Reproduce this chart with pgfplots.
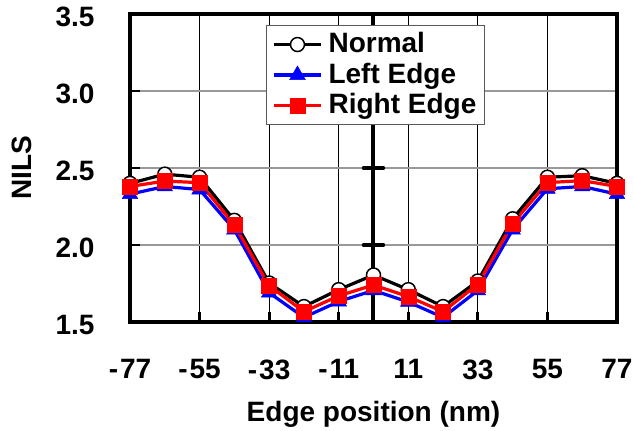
\documentclass[border=0pt]{standalone}
\usepackage{pgfplots}
\pgfplotsset{compat=1.18}
\usepackage{fontspec}
\setmainfont{Liberation Sans}
\newcommand{\lf}{\fontsize{28}{32}\selectfont\bfseries}
\begin{document}
\lf
\begin{tikzpicture}
\begin{axis}[
  name=ax,
  scale only axis,
  width=487pt, height=308pt,
  xmin=-77, xmax=77, ymin=1.5, ymax=3.5,
  clip=false,
  axis line style={line width=4pt},
  xtick={-77,-55,-33,-11,11,33,55,77},
  xticklabels={{-\kern2pt77},{-\kern2pt55},{-\kern2pt33},{-\kern2pt11},11,33,55,77},
  ytick={1.5,2,2.5,3,3.5},
  yticklabels={1.5,2.0,2.5,3.0,3.5},
  tick pos=left,
  tick align=inside,
  major tick length=10pt,
  xtick style={line width=3pt, black},
  ytick style={line width=1.5pt, black},
  xmajorgrids, ymajorgrids,
  x grid style={line width=0.9pt, black},
  y grid style={line width=1.3pt, gray!80},
  xticklabel style={font=\lf, yshift=-28pt},
  yticklabel style={font=\lf, xshift=-26pt, yshift=-3pt},
  xlabel={Edge position (nm)},
  ylabel={NILS},
  xlabel style={font=\lf, at={(axis description cs:0.5,0)}, anchor=base, yshift=-100pt},
  ylabel style={font=\lf, at={(axis description cs:-0.2218,0.5)}, anchor=center},
  legend style={at={(axis description cs:0.279,0.965)}, anchor=north west,
    draw=gray!70!black, line width=1pt, fill=white,
    font=\lf, inner xsep=6pt, inner ysep=5pt,
    row sep=2pt, cells={anchor=west}},
  legend image code/.code={
    \draw[mark repeat=2,mark phase=2,#1] plot coordinates {(0pt,0pt) (23.5pt,0pt) (47pt,0pt)};
    \path (51pt,0pt);
  },
]
\draw[line width=4pt] (axis cs:0,1.5) -- (axis cs:0,3.5);
\draw[line width=3.5pt, line cap=round] ([xshift=-10pt]axis cs:0,2) -- ([xshift=10pt]axis cs:0,2);
\draw[line width=3.5pt, line cap=round] ([xshift=-10pt]axis cs:0,2.5) -- ([xshift=10pt]axis cs:0,2.5);
\draw[line width=3.5pt, line cap=round] ([xshift=-10pt]axis cs:0,3) -- ([xshift=10pt]axis cs:0,3);

\addplot[black, line width=3.2pt, mark=*, mark size=7pt,
  mark options={fill=white, draw=black, line width=1.5pt}]
  coordinates {(-77,2.40) (-66,2.46) (-55,2.44) (-44,2.16) (-33,1.753) (-22,1.60) (-11,1.71) (0,1.805)
               (11,1.71) (22,1.60) (33,1.766) (44,2.17) (55,2.44) (66,2.45) (77,2.40)};
\addlegendentry{Normal}
\addplot[blue, line width=3.2pt, mark=triangle*, mark size=9pt,
  mark options={fill=blue, draw=blue, line width=0.5pt}]
  coordinates {(-77,2.33) (-66,2.38) (-55,2.36) (-44,2.10) (-33,1.69) (-22,1.53) (-11,1.633) (0,1.705)
               (11,1.63) (22,1.53) (33,1.705) (44,2.10) (55,2.365) (66,2.38) (77,2.33)};
\addlegendentry{Left Edge}
\addplot[red, line width=3.2pt, mark=square*, mark size=7.5pt,
  mark options={fill=red, draw=red, line width=0.5pt}]
  coordinates {(-77,2.38) (-66,2.415) (-55,2.405) (-44,2.13) (-33,1.736) (-22,1.567) (-11,1.67) (0,1.74)
               (11,1.665) (22,1.567) (33,1.745) (44,2.14) (55,2.405) (66,2.418) (77,2.38)};
\addlegendentry{Right Edge}
\end{axis}
\pgfresetboundingbox
\path[use as bounding box] ([shift={(-130pt,-109pt)}]ax.south west) rectangle ([shift={(17pt,14pt)}]ax.north east);
\end{tikzpicture}
\end{document}
